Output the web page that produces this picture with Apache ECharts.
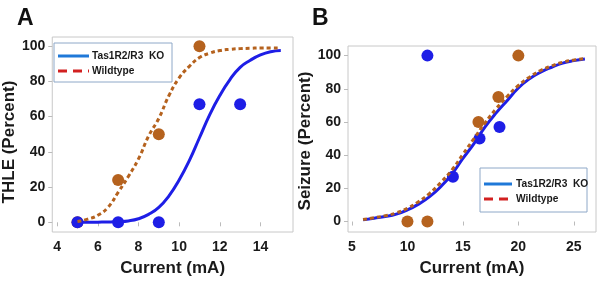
<!DOCTYPE html>
<html><head><meta charset="utf-8">
<script src="https://cdn.jsdelivr.net/npm/echarts@6/dist/echarts.min.js"></script>
<style>html,body{margin:0;padding:0;background:#fff}#c{width:604px;height:283px}</style>
</head><body><div id="c"></div>
<script>
// ---- Panel A data (THLE) ----
const aXTicks = [4, 6, 8, 10, 12, 14];
const aYTicks = [0, 20, 40, 60, 80, 100];
const aKoX = [5, 7, 9, 11, 13];
const aKoY = [0, 0, 0, 67, 67];
const aWtX = [5, 7, 9, 11];
const aWtY = [0, 24, 50, 100];
const aCurveX = [5, 5.5, 6, 6.5, 7, 7.5, 8, 8.5, 9, 9.5, 10, 10.5, 11, 11.5, 12, 12.5, 13, 13.5, 14, 14.5, 15];
const aKoCurve = [0, 0, 0.1, 0.2, 0.4, 0.8, 2, 4.5, 8.5, 15, 24, 35, 48, 61, 72, 81, 88, 92, 95, 96.8, 97.5];
const aWtCurve = [0.5, 1.8, 4, 8.5, 17, 26, 36, 49, 59, 72, 82, 88.5, 93.5, 96, 97.5, 98.2, 98.6, 98.8, 99, 99, 99];

// ---- Panel B data (Seizure) ----
const bXTicks = [5, 10, 15, 20, 25];
const bYTicks = [0, 20, 40, 60, 80, 100];
const bKoX = [11.8, 14.1, 16.5, 18.3];
const bKoY = [100, 27, 50, 57];
const bWtX = [10, 11.8, 16.4, 18.2, 20];
const bWtY = [0, 0, 60, 75, 100];
const bCurveX = [6, 7, 8, 9, 10, 11, 12, 13, 14, 15, 16, 17, 18, 19, 20, 21, 22, 23, 24, 25, 26];
const bKoCurve = [1, 2, 3, 4.5, 7, 10.5, 15, 21, 28.5, 38, 47, 57, 65.5, 73, 80.5, 86, 90, 93, 95.5, 97, 98];
const bWtCurve = [1.2, 2.3, 3.5, 5.2, 8, 12, 17, 23.5, 31, 40.5, 50, 59.5, 68, 75.5, 82, 87, 91, 93.8, 96, 97.3, 98.2];

const legendNames = ['Tas1R2/R3  KO', 'Wildtype'];
const panelLabels = ['A', 'B'];
const yTitles = ['THLE (Percent)', 'Seizure (Percent)'];
const xTitle = 'Current (mA)';

const BLUE = '#1e1ee6', BROWN = '#b5621e';
const FONT = '"Liberation Sans", Arial, sans-serif';
const zip = (xs, ys) => xs.map((x, i) => [x, ys[i]]);

function xAxisCfg(idx, min, max, ticks) {
  return {
    gridIndex: idx, type: 'value', min: min, max: max,
    name: xTitle, nameLocation: 'middle', nameGap: 28,
    nameTextStyle: { fontFamily: FONT, fontWeight: 'bold', fontSize: 17, color: '#1a1a1a' },
    axisLine: { show: false },
    axisTick: { show: true, length: 4, inside: false, customValues: ticks, lineStyle: { color: '#bbb' } },
    axisLabel: { customValues: ticks, margin: 8, fontFamily: FONT, fontWeight: 'bold', fontSize: 14, color: '#1a1a1a' },
    splitLine: { show: false }
  };
}
function yAxisCfg(idx, min, max, ticks, title, gap, shift) {
  return {
    gridIndex: idx, type: 'value', min: min, max: max,
    name: title, nameLocation: 'middle', nameGap: gap, nameRotate: 90,
    nameTextStyle: { fontFamily: FONT, fontWeight: 'bold', fontSize: 17, color: '#1a1a1a', padding: [0, shift, 0, 0] },
    axisLine: { show: false },
    axisTick: { show: true, length: 4, inside: false, customValues: ticks, lineStyle: { color: '#bbb' } },
    axisLabel: { customValues: ticks, margin: 7, fontFamily: FONT, fontWeight: 'bold', fontSize: 14, color: '#1a1a1a' },
    splitLine: { show: false }
  };
}
function scatter(name, idx, data, color, z) {
  return { name: name, type: 'scatter', xAxisIndex: idx, yAxisIndex: idx, data: data,
    symbol: 'circle', symbolSize: 12, itemStyle: { color: color, opacity: 1 }, z: z, silent: true };
}
function curve(name, idx, data, color, dashed, z) {
  return { name: name, type: 'line', xAxisIndex: idx, yAxisIndex: idx, data: data, smooth: true,
    symbol: 'none', lineStyle: { color: color, width: 3, type: dashed ? [4, 3] : 'solid' }, z: z, silent: true };
}
function legendBox(x, y, w, h, l1, l2, lineLen, tx) {
  return [
    { type: 'rect', shape: { x: x, y: y, width: w, height: h }, style: { fill: '#fff', stroke: '#8ea8c8', lineWidth: 1 }, z: 100 },
    { type: 'line', shape: { x1: x + 4, y1: y + l1, x2: x + 4 + lineLen, y2: y + l1 }, style: { stroke: '#1f78d8', lineWidth: 3 }, z: 101 },
    { type: 'line', shape: { x1: x + 4, y1: y + l2, x2: x + 4 + lineLen, y2: y + l2 }, style: { stroke: '#d22020', lineWidth: 3, lineDash: [9, 6] }, z: 101 },
    { type: 'text', x: x + tx, y: y + l1, style: { text: legendNames[0], fontFamily: FONT, fontWeight: 'bold', fontSize: 10.2, fill: '#1a1a1a', verticalAlign: 'middle' }, z: 101 },
    { type: 'text', x: x + tx, y: y + l2, style: { text: legendNames[1], fontFamily: FONT, fontWeight: 'bold', fontSize: 10.2, fill: '#1a1a1a', verticalAlign: 'middle' }, z: 101 }
  ];
}

const chart = echarts.init(document.getElementById('c'), null, { renderer: 'canvas' });
chart.setOption({
  animation: false,
  grid: [
    { left: 50, top: 37, width: 243, height: 195, show: true, borderColor: '#c8c8c8', borderWidth: 1, backgroundColor: '#fff' },
    { left: 348, top: 46, width: 248, height: 186, show: true, borderColor: '#c8c8c8', borderWidth: 1, backgroundColor: '#fff' }
  ],
  xAxis: [xAxisCfg(0, 3.76, 15.6, aXTicks), xAxisCfg(1, 4.64, 27.0, bXTicks)],
  yAxis: [yAxisCfg(0, -5.5, 105.2, aYTicks, yTitles[0], 28, 15), yAxisCfg(1, -6.3, 105.8, bYTicks, yTitles[1], 26, 4)],
  series: [
    scatter(legendNames[1], 0, zip(aWtX, aWtY), BROWN, 2),
    scatter(legendNames[0], 0, zip(aKoX, aKoY), BLUE, 3),
    curve(legendNames[0], 0, zip(aCurveX, aKoCurve), BLUE, false, 4),
    curve(legendNames[1], 0, zip(aCurveX, aWtCurve), BROWN, true, 5),
    scatter(legendNames[1], 1, zip(bWtX, bWtY), BROWN, 2),
    scatter(legendNames[0], 1, zip(bKoX, bKoY), BLUE, 3),
    curve(legendNames[0], 1, zip(bCurveX, bKoCurve), BLUE, false, 4),
    curve(legendNames[1], 1, zip(bCurveX, bWtCurve), BROWN, true, 5)
  ],
  graphic: [
    { type: 'text', x: 17, y: 7, style: { text: panelLabels[0], fontFamily: FONT, fontWeight: 'bold', fontSize: 23, fill: '#111' } },
    { type: 'text', x: 312, y: 7, style: { text: panelLabels[1], fontFamily: FONT, fontWeight: 'bold', fontSize: 23, fill: '#111' } }
  ].concat(legendBox(54, 43, 118, 39, 13, 28, 31, 38)).concat(legendBox(480, 168, 107, 44, 16, 31, 28, 36))
});
</script>
</body></html>
